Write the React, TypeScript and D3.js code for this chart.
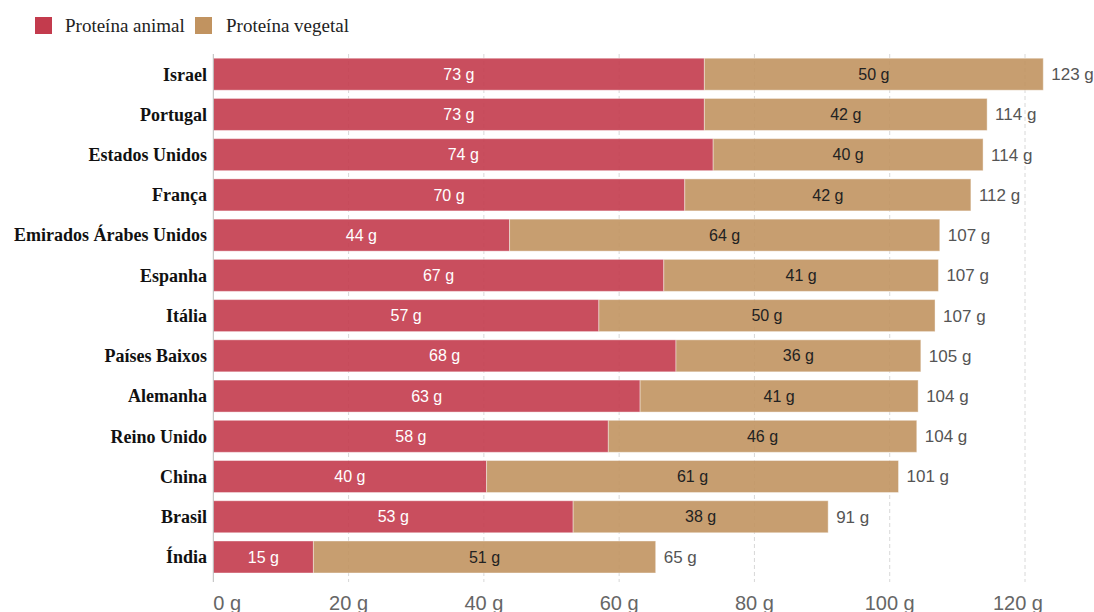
import React from "react";
import * as d3 from "d3";

const countries = ["Israel", "Portugal", "Estados Unidos", "França", "Emirados Árabes Unidos", "Espanha", "Itália", "Países Baixos", "Alemanha", "Reino Unido", "China", "Brasil", "Índia"];
const animal = [72.6, 72.6, 73.9, 69.7, 43.8, 66.6, 57.0, 68.4, 63.1, 58.4, 40.4, 53.2, 14.8];
const vegetal = [50.1, 41.8, 39.9, 42.3, 63.6, 40.6, 49.7, 36.2, 41.1, 45.6, 60.9, 37.7, 50.6];
const xTicks = [0, 20, 40, 60, 80, 100, 120];
const seriesNames = ["Proteína animal", "Proteína vegetal"];
const colors = ["#c33b4d", "#c19360"];

export default function App() {
  const W = 1094, H = 612;
  const x0 = 213.3;
  const x = d3.scaleLinear().domain([0, 120]).range([x0, x0 + 811.7]);
  const y = d3.scaleBand<string>().domain(countries).range([54.1, 577.1]).paddingInner(0.2).paddingOuter(0.1);
  const bh = 32;
  const yc = (c: string) => (y(c) as number) + y.bandwidth() / 2;
  const sans = "Arial, 'Liberation Sans', sans-serif";
  const serif = "'Times New Roman', 'Liberation Serif', serif";
  return (
    <svg width={W} height={H} style={{ position: "absolute", left: 0, top: 0 }}>
      <rect width={W} height={H} fill="#fff" />
      {/* legend */}
      <rect x={35} y={17} width={17} height={17} fill={colors[0]} />
      <text x={65} y={32} fontFamily={serif} fontSize={19} fill="#222">{seriesNames[0]}</text>
      <rect x={195} y={17} width={17} height={17} fill={colors[1]} />
      <text x={226} y={32} fontFamily={serif} fontSize={19} fill="#222">{seriesNames[1]}</text>
      {/* grid */}
      {xTicks.slice(1).map((t) => (
        <line key={t} x1={x(t)} x2={x(t)} y1={54} y2={582} stroke="#d8d8d8" strokeDasharray="4,3" />
      ))}
      {countries.map((c, i) => {
        const cy = yc(c);
        const a = animal[i], v = vegetal[i], tot = a + v;
        return (
          <g key={c}>
            <rect x={x(0)} y={cy - bh / 2} width={x(a) - x(0)} height={bh} fill={colors[0]} fillOpacity={0.9} stroke="#fff" strokeOpacity={0.4} strokeWidth={1} />
            <rect x={x(a)} y={cy - bh / 2} width={x(tot) - x(a)} height={bh} fill={colors[1]} fillOpacity={0.9} stroke="#fff" strokeOpacity={0.4} strokeWidth={1} />
            <text x={(x(0) + x(a)) / 2} y={cy} dy="0.35em" textAnchor="middle" fontFamily={sans} fontSize={16} fill="#fff">{Math.round(a)} g</text>
            <text x={(x(a) + x(tot)) / 2} y={cy} dy="0.35em" textAnchor="middle" fontFamily={sans} fontSize={16} fill="#222">{Math.round(v)} g</text>
            <text x={x(tot) + 8} y={cy} dy="0.35em" fontFamily={sans} fontSize={17} fill="#555">{Math.round(tot)} g</text>
            <text x={207} y={cy} dy="0.35em" textAnchor="end" fontFamily={serif} fontWeight="bold" fontSize={18} fill="#111">{c}</text>
          </g>
        );
      })}
      <line x1={x(0)} x2={x(0)} y1={54} y2={582} stroke="#bbb" />
      {xTicks.map((t, i) => {
        const first = i === 0, last = i === xTicks.length - 1;
        return (
          <text key={t} x={first ? x(t) : last ? 1043 : x(t)} y={610}
            textAnchor={first ? "start" : last ? "end" : "middle"}
            fontFamily={sans} fontSize={20} fill="#666">{t} g</text>
        );
      })}
    </svg>
  );
}
